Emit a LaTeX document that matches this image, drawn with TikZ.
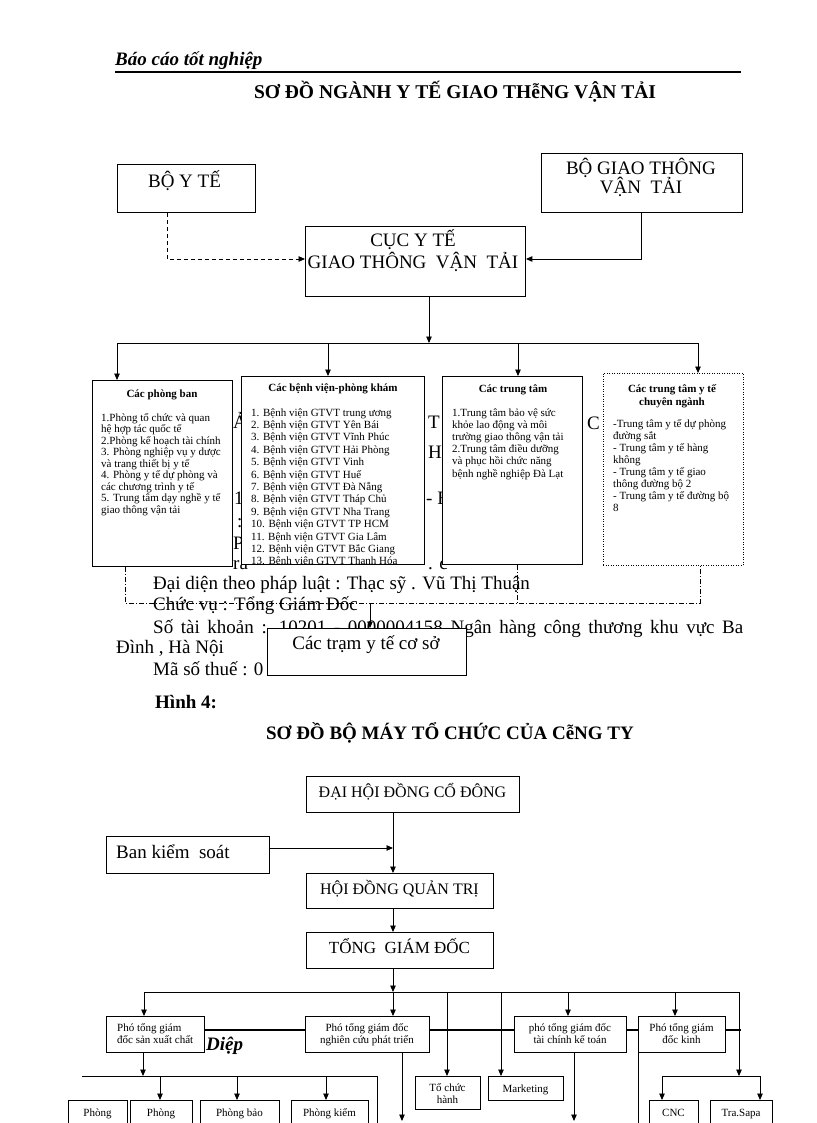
\documentclass[tikz,border=0pt]{standalone}
\usepackage{fontspec}
\setmainfont{Liberation Serif}
\usetikzlibrary{arrows.meta,calc}
\tikzset{
 box/.style={draw,line width=0.9pt,fill=white,inner sep=0pt,anchor=north west},
 arr/.style={line width=0.9pt,-{Triangle[length=6.5pt,width=5.5pt]}},
 ln/.style={line width=0.9pt},
 thick line/.style={line width=2.2pt},
 dd/.style={line width=0.9pt,dash pattern=on 5pt off 2pt on 1pt off 2pt},
 big/.style={font=\fontsize{19}{22}\selectfont,inner sep=0pt,anchor=base west},
 bigc/.style={font=\fontsize{19}{22}\selectfont,inner sep=0pt,anchor=base},
 bigb/.style={font=\fontsize{19}{22}\selectfont\bfseries,inner sep=0pt,anchor=base west},
 midc/.style={font=\fontsize{16}{19}\selectfont,inner sep=0pt,anchor=base},
 sm/.style={font=\fontsize{11}{12}\selectfont,inner sep=0pt,anchor=base west},
 smc/.style={font=\fontsize{11}{12}\selectfont,inner sep=0pt,anchor=base},
 smb/.style={font=\fontsize{11}{12}\selectfont\bfseries,inner sep=0pt,anchor=base},
}
\begin{document}
\begin{tikzpicture}[x=1pt,y=-1pt]
\useasboundingbox (0,0) rectangle (816,1123);
\clip (0,0) rectangle (816,1123);
\fill[white] (0,0) rectangle (816,1123);

% header
\node[font=\fontsize{19}{22}\selectfont\bfseries\itshape,inner sep=0pt,anchor=base west] (hdr) at (115,66) {Báo cáo tốt nghiệp};
\draw[line width=1.6pt] (115,72) -- (741,72);
\node[font=\fontsize{19.5}{22}\selectfont\bfseries,inner sep=0pt,anchor=base] (title1) at (455,99) {SƠ ĐỒ NGÀNH Y TẾ GIAO THễNG VẬN TẢI};

% background text fragments
\node[big] (f1) at (233,428) {Ả};
\node[big] (f2) at (428,428) {T};
\node[big] (f3) at (587,429) {C};
\node[big] (f4) at (428,458) {H};
\node[big] (f5) at (234,504) {1};
\node[big] (f6) at (426,504) {- E};
\node[big] (f7) at (237,527) {:};
\node[big] (f8) at (233,549) {P};
\node[big] (f9) at (233,569) {ra};
\node[big] (f10) at (428,569) {. c};
\node[big] (l1) at (153,589) {Đại diện theo pháp luật : Thạc sỹ . Vũ Thị Thuận};
\node[big] (l2) at (153,610) {Chức vụ : Tổng Giám Đốc};
\node[big] (l3) at (153,633) {\makebox[590pt][s]{Số tài khoản : 10201 - 0000004158 Ngân hàng công thương khu vực Ba}};
\node[big] (l4) at (116,653) {Đình , Hà Nội};
\node[big] (l5) at (153,675) {Mã số thuế : 0};
\node[bigb] (l6) at (155,708) {Hình 4:};
\node[font=\fontsize{19}{22}\selectfont\bfseries,inner sep=0pt,anchor=base] (title2) at (450,739) {SƠ ĐỒ BỘ MÁY TỔ CHỨC CỦA CễNG TY};
\node[font=\fontsize{19}{22}\selectfont\bfseries\itshape,inner sep=0pt,anchor=base west] (dp) at (206,1050) {Diệp};

% top chart boxes
\node[box,minimum width=138pt,minimum height=48pt] (BYT) at (117,164) {};
\node[bigc] (tBYT) at (184.5,187.5) {BỘ Y TẾ};
\node[box,minimum width=201pt,minimum height=59pt] (BGT) at (541,153) {};
\node[bigc] (tBGT1) at (641,174.5) {BỘ GIAO THÔNG};
\node[bigc] (tBGT2) at (641,193.5) {VẬN\ \ TẢI};
\node[box,minimum width=220pt,minimum height=70pt] (CUC) at (305,226) {};
\node[bigc] (tCUC1) at (413,246.5) {CỤC Y TẾ};
\node[bigc] (tCUC2) at (413,268.5) {GIAO THÔNG\ \ VẬN\ \ TẢI};

\coordinate (dx) at (167,259);
\draw[arr,dash pattern=on 4pt off 3pt] (BYT.south -| dx) |- (CUC.west |- dx);
\coordinate (sx) at (641,259);
\draw[arr] (BGT.south -| sx) |- (CUC.east |- sx);

% four column boxes
\node[box,minimum width=140pt,minimum height=186pt] (PB) at (92,380) {};
\node[box,minimum width=183pt,minimum height=188pt] (BV) at (241,376) {};
\node[box,minimum width=140pt,minimum height=188pt] (TT) at (442,376) {};
\node[box,dash pattern=on 1pt off 1.5pt,minimum width=140pt,minimum height=192pt] (CN) at (603,373) {};

\node[smb] (tPB) at (162,397) {Các phòng ban};
\foreach \t [count=\i] in {1.Phòng tổ chức và quan,hệ hợp tác quốc tế,2.Phòng kế hoạch tài chính,3. Phòng nghiệp vụ y dược,và trang thiết bị y tế,4. Phòng y tế dự phòng và,các chương trình y tế,5. Trung tâm dạy nghề y tế,giao thông vận tải}
  \node[sm] (pb\i) at (101,{421+(\i-1)*11.5}) {\t};

\node[smb] (tBV) at (333,391) {Các bệnh viện-phòng khám};
\begin{scope}
\clip (241,376) rectangle (424,564);
\foreach \t [count=\i] in {1. Bệnh viện GTVT trung ương,2. Bệnh viện GTVT Yên Bái,3. Bệnh viện GTVT Vĩnh Phúc,4. Bệnh viện GTVT Hải Phòng,5. Bệnh viện GTVT Vinh,6. Bệnh viện GTVT Huế,7. Bệnh viện GTVT Đà Nẵng,8. Bệnh viện GTVT Tháp Chủ,9. Bệnh viện GTVT Nha Trang,10. Bệnh viện GTVT TP HCM,11. Bệnh viện GTVT Gia Lâm,12. Bệnh viện GTVT Bắc Giang,13. Bệnh viện GTVT Thanh Hóa}
  \node[sm] (bv\i) at (251,{416+(\i-1)*12.4}) {\t};
\end{scope}

\node[smb] (tTT) at (513,392) {Các trung tâm};
\foreach \t [count=\i] in {1.Trung tâm bảo vệ sức,khỏe lao động và môi,trường giao thông vận tải,2.Trung tâm điều dưỡng,và phục hồi chức năng,bệnh nghề nghiệp Đà Lạt}
  \node[sm] (tt\i) at (452,{416+(\i-1)*12.2}) {\t};

\node[smb] (tCN1) at (672,392) {Các trung tâm y tế};
\node[smb] (tCN2) at (672,405) {chuyên ngành};
\foreach \t [count=\i] in {-Trung tâm y tế dự phòng,đường sắt,- Trung tâm y tế hàng,không,- Trung tâm y tế giao,thông đường bộ 2,- Trung tâm y tế đường bộ,8}
  \node[sm] (cn\i) at (613,{427+(\i-1)*12.1}) {\t};

\coordinate (cx) at (429,343);
\draw[arr] (CUC.south -| cx) -- (cx);
\coordinate (h1) at (117,343);
\coordinate (h2) at (328,343);
\coordinate (h3) at (518,343);
\coordinate (h4) at (698,343);
\draw[ln] (h1) -- (h4);
\draw[arr] (h1) -- (PB.north -| h1);
\draw[arr] (h2) -- (BV.north -| h2);
\draw[arr] (h3) -- (TT.north -| h3);
\draw[arr] (h4) -- (CN.north -| h4);

% lower part of first chart
\node[box,minimum width=199pt,minimum height=47pt] (TRAM) at (267,628) {};
\node[bigc] (tTRAM) at (366,649) {Các trạm y tế cơ sở};
\coordinate (d1) at (125,603);
\coordinate (d3) at (517,603);
\coordinate (d4) at (700,603);
\coordinate (dm) at (370,603);
\draw[dd] (PB.south -| d1) -- (d1) -- (d4) -- (CN.south -| d4);
\draw[dd] (TT.south -| d3) -- (d3);
\draw[arr] (dm) -- (TRAM.north -| dm);

% second chart
\node[box,minimum width=213pt,minimum height=36pt] (DH) at (306,776) {};
\node[midc] (tDH) at (412.5,797) {ĐẠI HỘI ĐỒNG CỔ ĐÔNG};
\node[box,minimum width=163pt,minimum height=37pt] (BKS) at (106,836) {};
\node[big] (tBKS) at (116,858) {Ban kiểm\ \ soát};
\node[box,minimum width=187pt,minimum height=35pt] (HQ) at (306,873) {};
\node[midc] (tHQ) at (399.5,894) {HỘI ĐỒNG QUẢN TRỊ};
\node[box,minimum width=187pt,minimum height=36pt] (TG) at (306,932) {};
\node[font=\fontsize{17}{20}\selectfont,inner sep=0pt,anchor=base] (tTG) at (399.5,953) {TỔNG\ \ GIÁM ĐỐC};

\coordinate (vx) at (393,848);
\draw[arr] (BKS.east |- vx) -- (vx);
\draw[arr] (DH.south -| vx) -- (HQ.north -| vx);
\draw[arr] (HQ.south -| vx) -- (TG.north -| vx);
\coordinate (r0) at (393,992);
\draw[arr] (TG.south -| vx) -- (r0);

% row 2
\node[box,minimum width=98pt,minimum height=36pt] (P1) at (106,1016) {};
\node[box,minimum width=124pt,minimum height=36pt] (P2) at (305,1016) {};
\node[box,minimum width=112pt,minimum height=36pt] (P3) at (514,1016) {};
\node[box,minimum width=87pt,minimum height=36pt] (P4) at (638,1016) {};
\node[sm] (tP1a) at (117,1031) {Phó tổng giám};
\node[sm] (tP1b) at (117,1043) {đốc sản xuất chất};
\node[smc] (tP2a) at (367,1031) {Phó tổng giám đốc};
\node[smc] (tP2b) at (367,1043) {nghiên cứu phát triển};
\node[smc] (tP3a) at (570,1031) {phó tổng giám đốc};
\node[smc] (tP3b) at (570,1043) {tài chính kế toán};
\node[smc] (tP4a) at (681.5,1031) {Phó tổng giám};
\node[smc] (tP4b) at (681.5,1043) {đốc kinh};

\coordinate (ty) at (0,1030);
\coordinate (te) at (741,1030);
\draw[thick line] (P1.east |- ty) -- (P2.west |- ty);
\draw[thick line] (P2.east |- ty) -- (P3.west |- ty);
\draw[thick line] (P3.east |- ty) -- (P4.west |- ty);
\draw[thick line] (P4.east |- ty) -- (te);

% row 3 boxes
\node[box,minimum width=59pt,minimum height=40pt] (B1) at (68,1100) {};
\node[box,minimum width=62pt,minimum height=40pt] (B2) at (130,1100) {};
\node[box,minimum width=79pt,minimum height=40pt] (B3) at (200,1100) {};
\node[box,minimum width=77pt,minimum height=40pt] (B4) at (291,1100) {};
\node[smc] (tB1) at (97.5,1116) {Phòng};
\node[smc] (tB2) at (161,1116) {Phòng};
\node[smc] (tB3) at (239.5,1116) {Phòng bảo};
\node[smc] (tB4) at (329.5,1116) {Phòng kiểm};
\node[box,minimum width=65pt,minimum height=33pt] (TC) at (415,1076) {};
\node[smc] (tTCa) at (447.5,1091) {Tổ chức};
\node[smc] (tTCb) at (447.5,1103) {hành};
\node[box,minimum width=75pt,minimum height=24pt] (MK) at (488,1076) {};
\node[smc] (tMK) at (525.5,1092) {Marketing};
\node[box,minimum width=49pt,minimum height=40pt] (CNC) at (649,1100) {};
\node[smc] (tCNC) at (673.5,1116) {CNC};
\node[box,minimum width=62pt,minimum height=40pt] (SAPA) at (710,1100) {};
\node[smc] (tSAPA) at (741,1116) {Tra.Sapa};

% row 1 connectors
\coordinate (r1) at (144,992);
\coordinate (r3) at (447,992);
\coordinate (r4) at (501,992);
\coordinate (r5) at (568,992);
\coordinate (r6) at (675,992);
\coordinate (r7) at (739,992);
\draw[ln] (r1) -- (r7);
\draw[arr] (r1) -- (P1.north -| r1);
\draw[arr] (r0) -- (P2.north -| r0);
\draw[arr] (r3) -- (TC.north -| r3);
\draw[arr] (r4) -- (MK.north -| r4);
\draw[arr] (r5) -- (P3.north -| r5);
\draw[arr] (r6) -- (P4.north -| r6);
\coordinate (j7) at (739,1076);
\draw[arr] (r7) -- (j7);

% row 3 connectors
\coordinate (q0) at (143,1076);
\draw[arr] (P1.south -| q0) -- (q0);
\coordinate (qa) at (82,1076);
\coordinate (qb) at (377,1076);
\coordinate (qc) at (377,1130);
\draw[ln] (qa) -- (qb) -- (qc);
\coordinate (q1) at (160,1076);
\coordinate (q2) at (237,1076);
\coordinate (q3) at (326,1076);
\draw[arr] (q1) -- (B2.north -| q1);
\draw[arr] (q2) -- (B3.north -| q2);
\draw[arr] (q3) -- (B4.north -| q3);
\coordinate (q5) at (402,1121);
\draw[arr] (P2.south -| q5) -- (q5);
\coordinate (q6) at (574,1121);
\draw[arr] (P3.south -| q6) -- (q6);
\coordinate (q7) at (638,1130);
\draw[ln] (P4.south west) -- (q7);
\coordinate (k1) at (662,1076);
\coordinate (k2) at (760,1076);
\draw[ln] (k1) -- (k2);
\draw[arr] (k1) -- (CNC.north -| k1);
\draw[arr] (k2) -- (SAPA.north -| k2);
\end{tikzpicture}
\end{document}
